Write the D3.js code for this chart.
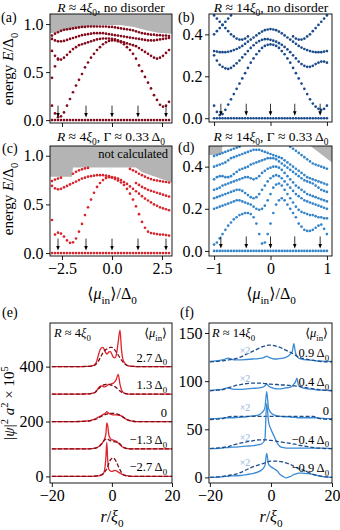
<!DOCTYPE html>
<html><head><meta charset="utf-8">
<script src="https://cdn.jsdelivr.net/npm/d3@7"></script>
<style>body{margin:0;background:#fff}svg{display:block}svg text{font-family:"Liberation Serif","DejaVu Serif",serif !important}</style>
</head><body><svg id="c" width="340" height="530"></svg>
<script>
// ---------------- DATA ----------------
const muA = [-3,-2.85,-2.7,-2.55,-2.4,-2.25,-2.1,-1.95,-1.8,-1.65,-1.5,-1.35,-1.2,-1.05,-0.9,-0.75,-0.6,-0.45,-0.3,-0.15,0,0.15,0.3,0.45,0.6,0.75,0.9,1.05,1.2,1.35,1.5,1.65,1.8,1.95,2.1,2.25,2.4,2.55,2.7,2.85];
const muB = [-1,-0.95,-0.9,-0.85,-0.8,-0.75,-0.7,-0.65,-0.6,-0.55,-0.5,-0.45,-0.4,-0.35,-0.3,-0.25,-0.2,-0.15,-0.1,-0.05,0,0.05,0.1,0.15,0.2,0.25,0.3,0.35,0.4,0.45,0.5,0.55,0.6,0.65,0.7,0.75,0.8,0.85,0.9,0.95,1];
const zeroA = [0,0,0,0,0,0,0,0,0,0,0,0,0,0,0,0,0,0,0,0,0,0,0,0,0,0,0,0,0,0,0,0,0,0,0,0,0,0,0,0];
const zeroB = [0,0,0,0,0,0,0,0,0,0,0,0,0,0,0,0,0,0,0,0,0,0,0,0,0,0,0,0,0,0,0,0,0,0,0,0,0,0,0,0,0];
// (a) R~4xi0, clean
const a1 = [.88,.90,.915,.93,.94,.945,.95,.955,.96,.965,.97,.97,.975,.975,.975,.975,.975,.975,.975,.97,.97,.965,.96,.955,.95,.945,.94,.935,.925,.915,.905,.90,.895,.89,.89,.885,.885,.88,.88,.875];
const a2 = [.845,.83,.82,.82,.825,.835,.845,.855,.865,.875,.885,.89,.895,.90,.905,.905,.905,.905,.90,.895,.89,.885,.88,.875,.87,.865,.86,.855,.85,.845,.84,.835,.83,.83,.83,.835,.84,.845,.85,.855];
const a3 = [.72,.67,.64,.63,.65,.68,.71,.74,.76,.78,.79,.80,.81,.82,.83,.84,.845,.85,.85,.85,.845,.84,.83,.82,.81,.80,.79,.78,.77,.75,.73,.71,.69,.67,.65,.64,.65,.67,.70,.73];
const a4 = [.15,.07,.03,.04,.08,.15,.22,.29,.36,.42,.48,.55,.60,.65,.69,.73,.76,.79,.81,.825,.83,.83,.82,.81,.79,.76,.73,.69,.64,.57,.51,.45,.39,.33,.26,.21,.16,.14,.15,.19];
const a5 = [.44,.56,.63];
const grayAmu = [-3.1,-2.6,-2.0,-1.2,-0.5,0.4,1.1,1.7,2.3,3.0];
const grayAE  = [.905,.92,.95,.975,.99,.99,.97,.935,.91,.9];
// (b) R~14xi0, clean
const b1 = [.32,.318,.315,.315,.315,.317,.32,.325,.33,.337,.345,.355,.365,.375,.385,.395,.405,.413,.42,.423,.425,.423,.42,.413,.405,.395,.385,.375,.365,.355,.345,.337,.33,.325,.32,.317,.315,.315,.315,.318,.32];
const b2 = [.30,.275,.255,.245,.238,.235,.24,.25,.262,.275,.29,.305,.32,.335,.348,.36,.368,.374,.377,.377,.374,.37,.365,.358,.35,.34,.328,.315,.30,.285,.27,.258,.25,.245,.245,.25,.258,.265,.27,.27,.265];
const b3 = [.06,.03,.015,.02,.04,.065,.09,.115,.14,.165,.19,.215,.24,.265,.285,.305,.32,.335,.345,.35,.352,.35,.345,.335,.32,.305,.285,.265,.24,.215,.19,.165,.14,.115,.09,.07,.055,.045,.04,.045,.06];
const b4 = [.40,.415,.43,.445,.46,.475,.49];
const b5 = [.49,.475,.46,.445,.43,.415,.40,.39,.38,.375,.375,.38,.39,null,null,null,null,null,null,null,null,null,null,null,null,null,null,null,.39,.38,.375,.375,.38,.39,.40,.415,.43,.445,.46,.475,.49];
// (c) R~4xi0, disorder
const c1 = [.74,.755,.765,.775,null,null,null,.815,.835,.85,.86,.87,.875];
const c2 = [.69,.665,.655,.66,.675,.69,.705,.72,.735,.75,.765,.775,.785,.79,.795,.80,.80,.80,.795,.79,.775,.76,.745,.725,.70,.66,.61,.55,.48,.40,.32,.26,.22,.205,.20,.195,.19,.19,.185,.18];
const c3 = [.34,.19,.21,.20,.17,.13,.105,.11,.15,.22,.30,.39,.47,.55,.62,.68,.72,.75,.77,.78,.78,.775,.765,.75,.73,.71,.685,.66,.635,.61,.585,.56,.54,.52,.50,.485,.47,.46,.45,.44];
const c4 = [null,null,null,null,null,null,null,null,null,null,null,null,null,null,null,null,null,null,null,null,null,null,null,null,null,null,.865,.85,.835,.815,.80,.785,.77,.76,.75,.745,.74,.735,.73,.725];
const c5 = [null,null,null,null,null,null,null,null,null,null,null,null,null,null,null,null,null,null,null,null,null,null,null,null,null,null,null,null,.72,.70,.68,.665,.65,.64,.63,.62,.61,.60,.59,.58];
const grayCmu = [-3.1,-2.0,-1.95,1.2,1.5,3.0];
const grayCE  = [.785,.785,.88,.88,.83,.725];
// (d) R~14xi0, disorder
const dd1 = [.45,.455,.46,.465,.47,.475,.48,.485,.49,.495,null,null,null,null,null,null,null,null,null,null,null,null,null,null,null,null,null,.495,.485,.475,.465,.455,.445,.435,.425,.415,.41,.405,.40,.395,.39];
const dd2 = [.40,.405,.41,.415,.42,.43,.44,.445,.45,.455,.46,.465,.47,.475,.48,.48,.48,.475,.47,.465,.46,.455,.45,.445,.44,.43,.42,.41,.40,.39,.38,.37,.36,.35,.345,.34,.335,.33,.325,.32,.315];
const dd3 = [.34,.35,.355,.355,.35,.35,.355,.365,.375,.385,.39,.395,.40,.41,.415,.42,.425,.43,.435,.44,.44,.44,.435,.425,.415,.405,.395,.385,.375,.365,.355,.345,.335,.33,.325,.32,.31,.30,.29,.285,.28];
const dd4 = [.29,.295,.30,.31,.315,.32,.325,.33,.335,.34,.345,.35,.35,.345,.34,.345,.355,.37,.38,.39,.395,.40,.40,.395,.385,.37,.355,.34,.325,.31,.30,.29,.28,.27,.265,.26,.255,.25,.245,.24,.235];
const dd5 = [.25,.255,.26,.265,.27,.275,.28,.285,.29,.29,.285,.275,.265,.255,.25,.255,.27,.29,.31,.33,.345,.355,.36,.355,.345,.33,.315,.30,.285,.27,.26,.25,.24,.235,.23,.225,.22,.215,.21,.205,.20];
const dd6 = [.20,.205,.21,.215,.22,.225,.23,.235,.24,.24,.235,.23,.225,.22,.21,.20,.195,.20,.215,.24,.27,.30,.315,.32,.31,.29,.27,.25,.23,.21,.195,.185,.18,.175,.17,.17,.165,.16,.16,.155,.155];
const dd7 = [.03,.04,.06,.08,.10,.12,.135,.15,.16,.17,.175,.18,.18,.175,.16,.13,.08,.035,.04,.08,.13,.18,.22,.24,.25,.24,.22,.20,.18,.16,.13,.115,.10,.095,.095,.10,.11,.12,.125,.105,.08];
const grayDmu = [-1.09,-0.87,-0.85,0.7,1.09];
const grayDE  = [.455,.455,.5,.5,.42];
// arrow positions (mu values of wavefunction cuts)
const arrowsA = [-2.7,-1.3,0,1.3,2.7];
const arrowsB = [-0.88,-0.43,0,0.43,0.88];
// (e) wavefunctions R~4xi0
const eR = [-20,-12,-8,-7,-6,-5.5,-5,-4.5,-4,-3.5,-3,-2.5,-2,-1.7,-1.4,-1,-0.5,0,0.5,1,1.5,2.1,2.7,3.2,3.6,4,4.5,5,5.5,6,7,8,12,20];
const eOffsets = [400,300,200,100,0];
const eLabels = ["2.7","1.3","0","\u22121.3","\u22122.7"];
const eS27 = [0,0,1,2,5,10,22,42,60,68,70,62,50,46,48,54,55,45,34,32,45,90,133,60,30,18,10,5,3,2,1,0,0,0];
const eD27 = [0,0,1,2,4,7,12,20,30,40,50,58,62,64,66,68,70,70,66,60,52,42,32,24,18,13,8,5,3,2,1,0,0,0];
const eS13 = [0,0,1,2,4,8,14,22,28,30,28,26,28,30,33,35,36,38,40,45,55,72,35,15,8,4,2,1,0,0,0,0,0,0];
const eD13 = [0,0,1,2,4,7,12,18,24,28,32,34,35,36,36,35,34,32,30,27,23,17,11,7,5,3,2,1,0,0,0,0,0,0];
const eS0  = [0,0,2,4,8,10,13,16,19,22,25,28,32,36,34,30,27,25,24,24,24,23,22,20,17,14,10,7,5,3,1,0,0,0];
const eD0  = [0,0,1,3,6,8,10,13,16,19,22,24,26,27,28,29,30,30,30,29,28,26,23,20,17,14,10,7,5,3,1,0,0,0];
const eSm13 = [0,0,0,1,2,3,5,8,12,18,25,35,55,95,85,50,38,34,32,30,28,22,15,10,7,5,3,2,1,0,0,0,0,0];
const eDm13 = [0,0,0,1,2,3,5,8,12,18,25,32,36,38,36,33,30,28,27,26,25,23,18,12,8,5,3,1,0,0,0,0,0,0];
const eSm27 = [0,0,0,0,1,1,2,2,3,5,8,20,70,124,60,25,20,18,20,22,20,16,12,9,7,5,4,3,2,1,0,0,0,0];
const eDm27 = [0,0,0,0,1,1,2,3,4,6,10,15,22,28,36,48,60,66,67,62,52,38,24,14,8,5,3,1,0,0,0,0,0,0];
// (f) wavefunctions R~14xi0
const fR = [-20,-18,-16,-15,-14,-13,-12,-10,-8,-6,-4,-3,-2,-1.4,-0.8,0,1,2,3,4,5,6,7,7.5,8,8.5,9,10,12,14,15,16,18,20];
const fOffsets = [120,90,60,30,0];
const fLabels = ["0.9","0.4","0","\u22120.4","\u22120.9"];
const fS09 = [0.5,1,2,3,4,3,2,2,2.5,3,3.5,4,5,6,5,4,3,3,3.5,4,5,7,11,19,10,6,4,3,2,1.5,1,1,0.5,0.5];
const fD09 = [0,0.5,1,1.5,2,2.5,3,5,8,11,14,15.5,16.5,17,17.5,17.5,17,16,15,13.5,12,10.5,9,8,7,6,5,4,2.5,1.5,1,0.5,0,0];
const fS04 = [0.5,1,1.5,2.5,3,2,1.5,1.5,2,2.5,3,3.5,5,7,5,3.5,2.5,2,2,2.5,3,3.5,5,7,9,13,6,3.5,2,1.5,1,1,0.5,0.5];
const fD04 = [0,0.5,1,2,3,4,5,6.5,7.5,8,8,8,7.5,7.5,7,7,6.5,6.5,6,6,6,5.5,5,5,5,4.5,4.5,4,3,2,1.5,1,0.5,0];
const fS0  = [1,1,1.5,2,2,2,2,2.5,3,4,5,7,12,29,12,7,5,4,3.5,3,3,3,2.5,2.5,2.5,2,2,2,2,2,2,1.5,1,1];
const fD0  = [0,0.5,1,2,3,3.5,3.5,3.5,3.5,3.5,3.5,3.5,3.5,3.5,3.5,3.5,3.5,3.5,3.5,3.5,3.5,3.5,3.5,3.5,3.5,3.5,3.5,3.5,3.5,3.5,2,1,0.5,0];
const fSm04 = [0,0,0.5,1,1,1.5,1.5,2,2.5,3,4,5,9,47,28,20,13,6,2,1,0.5,0.5,0.5,0.5,0.5,0.5,0.5,0.5,0.5,0.5,0.5,0.5,0.5,0];
const fDm04 = [0,0.5,1,1.5,2,3,4,5.5,7,8,9,9,9,9,8.5,8.5,8,7.5,7,6.5,6,5.5,5,4.5,4.5,4,3.5,3,2,1,0.5,0.5,0,0];
const fSm09 = [0,0,0.5,1,1,1.5,1.5,2,3,4,6,8,12,25,14,11,9,7,3,1,-0.5,0.5,2,3,3.5,4,4.5,4.5,4,3,2,1.5,0.5,0];
const fDm09 = [0,0.5,1,1.5,2,2.5,3,5,8,11,13,14,15,16,16.5,17,17,17,16.5,16,15,14,12.5,11.5,11,10,9,8,5.5,3,2,1.5,0.5,0];

// ---------------- DRAWING ----------------
const FONT = '"Liberation Serif","DejaVu Serif",serif';
const svg = d3.select('#c').attr('font-family', FONT);

function mtext(parent, x, y, parts, size, anchor, rotate) {
  const t = parent.append('text').attr('x', x).attr('y', y).attr('font-size', size)
    .attr('text-anchor', anchor || 'start').attr('fill', '#000');
  if (rotate) t.attr('transform', `rotate(${rotate},${x},${y})`);
  let shift = 0;
  parts.forEach(p => {
    const s = p[0], st = p[1] || '';
    const ts = t.append('tspan').text(s);
    let target = 0;
    if (st.includes('sub')) target = size * 0.3;
    if (st.includes('sup')) target = -size * 0.4;
    const dy = target - shift;
    if (dy) ts.attr('dy', dy);
    shift = target;
    if (st.includes('sub') || st.includes('sup')) ts.attr('font-size', size * 0.7);
    if (st.startsWith('i')) ts.attr('font-style', 'italic');
  });
  return t;
}

const boxes = {
  a: [50, 172, 14, 123], b: [209, 332, 14, 122],
  c: [50, 172, 146, 256], d: [209, 332, 146, 256],
  e: [50, 172, 323, 483], f: [209, 332, 323, 483]
};
const xA = d3.scaleLinear().domain([-3.1, 3.0]).range([50, 172]);
const yA = d3.scaleLinear().domain([-0.03, 1.105]).range([123, 14]);
const xB = d3.scaleLinear().domain([-1.09, 1.09]).range([209, 332]);
const yB = d3.scaleLinear().domain([-0.018, 0.497]).range([122, 14]);
const xC = d3.scaleLinear().domain([-3.1, 3.0]).range([50, 172]);
const yC = d3.scaleLinear().domain([-0.03, 1.1]).range([256, 146]);
const xD = d3.scaleLinear().domain([-1.09, 1.09]).range([209, 332]);
const yD = d3.scaleLinear().domain([-0.024, 0.498]).range([256, 146]);
const xE = d3.scaleLinear().domain([-20.6, 20]).range([50, 172]);
const yE = d3.scaleLinear().domain([-24, 559]).range([483, 323]);
const xF = d3.scaleLinear().domain([-20.3, 20]).range([209, 332]);
const yF = d3.scaleLinear().domain([-5.8, 160.4]).range([483, 323]);

function makePanel(id, box) {
  const g = svg.append('g');
  g.append('clipPath').attr('id', 'clip' + id).append('rect')
    .attr('x', box[0]).attr('y', box[2]).attr('width', box[1] - box[0]).attr('height', box[3] - box[2]);
  const inner = g.append('g').attr('clip-path', `url(#clip${id})`);
  return { g, inner };
}

function axes(g, x, y, box, xt, yt, xf, yf) {
  const bx = g.append('g').attr('transform', `translate(0,${box[3]})`)
    .call(d3.axisBottom(x).tickValues(xt).tickFormat(xf).tickSize(4).tickPadding(3).tickSizeOuter(0));
  bx.select('.domain').remove();
  bx.attr('font-family', FONT).attr('font-size', 16);
  const by = g.append('g').attr('transform', `translate(${box[0]},0)`)
    .call(d3.axisLeft(y).tickValues(yt).tickFormat(yf).tickSize(4).tickPadding(2.5).tickSizeOuter(0));
  by.select('.domain').remove();
  by.attr('font-family', FONT).attr('font-size', 16);
  g.selectAll('.tick line').attr('stroke', '#000').attr('stroke-width', 0.9);
  g.selectAll('.tick text').attr('fill', '#000');
}

function frame(g, box) {
  g.append('rect').attr('x', box[0]).attr('y', box[2]).attr('width', box[1] - box[0])
    .attr('height', box[3] - box[2]).attr('fill', 'none').attr('stroke', '#000').attr('stroke-width', 0.9);
}

function gray(inner, x, y, box, mu, E) {
  const area = d3.area().x((d, i) => x(mu[i])).y0(box[2]).y1(d => y(d));
  inner.append('path').attr('d', area(E)).attr('fill', '#b4b4b4');
}

function dots(inner, x, y, mu, bands, color) {
  bands.forEach(b => {
    const pts = b.map((v, i) => [mu[i], v]).filter(d => d[1] != null && d[1] !== undefined);
    inner.append('g').selectAll('circle').data(pts).join('circle')
      .attr('cx', d => x(d[0])).attr('cy', d => y(d[1])).attr('r', 1.35).attr('fill', color);
  });
}

function arrows(g, x, y, list) {
  list.forEach(m => {
    const px = x(m), tip = y(0) - 2.5, tail = tip - 12;
    g.append('line').attr('x1', px).attr('x2', px).attr('y1', tail).attr('y2', tip - 3)
      .attr('stroke', '#000').attr('stroke-width', 0.8);
    g.append('path').attr('d', `M${px - 1.8},${tip - 4.5}L${px + 1.8},${tip - 4.5}L${px},${tip}Z`).attr('fill', '#000');
  });
}

const fmt1 = d3.format('.1f');
const title4 = [['R', 'i'], [' \u2248 4'], ['\u03be', 'i'], ['0', 'sub'], [', no disorder']];
const title14 = [['R', 'i'], [' \u2248 14'], ['\u03be', 'i'], ['0', 'sub'], [', no disorder']];
const titleC = [['R', 'i'], [' \u2248 4'], ['\u03be', 'i'], ['0', 'sub'], [', \u0393 \u2248 0.33 \u0394'], ['0', 'sub']];
const titleD = [['R', 'i'], [' \u2248 14'], ['\u03be', 'i'], ['0', 'sub'], [', \u0393 \u2248 0.33 \u0394'], ['0', 'sub']];
const energyLab = [['energy '], ['E', 'i'], ['/\u0394'], ['0', 'sub']];
const muLab = [['\u27e8'], ['\u03bc', 'i'], ['in', 'sub'], ['\u27e9/\u0394'], ['0', 'sub']];
const muLegend = [['\u27e8'], ['\u03bc', 'i'], ['in', 'sub'], ['\u27e9']];
const rLab = [['r', 'i'], ['/'], ['\u03be', 'i'], ['0', 'sub']];
const psiLab = [['|'], ['\u03c8', 'i'], ['|'], ['2', 'sup'], [' '], ['a', 'i'], ['2', 'sup'], [' \u00d7 10'], ['5', 'sup']];

const colA = '#820b1d', colB = '#1b4b8b', colC = '#d6262c', colD = '#3484c9';

// Panel (a)
{
  const { g, inner } = makePanel('a', boxes.a);
  gray(inner, xA, yA, boxes.a, grayAmu, grayAE);
  dots(inner, xA, yA, muA, [a1, a2, a3, a4, a5, zeroA], colA);
  arrows(g, xA, yA, arrowsA);
  axes(g, xA, yA, boxes.a, [-2.5, 0, 2.5], [0, 0.5, 1], () => '', fmt1);
  frame(g, boxes.a);
  mtext(g, 111, 11.5, title4, 13.5, 'middle');
  mtext(g, 1, 22, [['(a)']], 14);
  mtext(g, 13, 69, energyLab, 15, 'middle', -90);
}
// Panel (b)
{
  const { g, inner } = makePanel('b', boxes.b);
  dots(inner, xB, yB, muB, [b1, b2, b3, b4, b5, zeroB], colB);
  arrows(g, xB, yB, arrowsB);
  axes(g, xB, yB, boxes.b, [-1, 0, 1], [0, 0.2, 0.4], () => '', fmt1);
  frame(g, boxes.b);
  mtext(g, 271, 11.5, title14, 13.5, 'middle');
  mtext(g, 178, 22, [['(b)']], 14);
}
// Panel (c)
{
  const { g, inner } = makePanel('c', boxes.c);
  gray(inner, xC, yC, boxes.c, grayCmu, grayCE);
  dots(inner, xC, yC, muA, [c1, c2, c3, c4, c5, zeroA], colC);
  arrows(g, xC, yC, arrowsA);
  axes(g, xC, yC, boxes.c, [-2.5, 0, 2.5], [0, 0.5, 1], fmt1, fmt1);
  frame(g, boxes.c);
  mtext(g, 168, 158, [['not calculated']], 12.5, 'end');
  mtext(g, 111, 141, titleC, 13.5, 'middle');
  mtext(g, 2, 153, [['(c)']], 14);
  mtext(g, 13, 199, energyLab, 15, 'middle', -90);
  mtext(g, 112, 299, muLab, 16, 'middle');
}
// Panel (d)
{
  const { g, inner } = makePanel('d', boxes.d);
  gray(inner, xD, yD, boxes.d, grayDmu, grayDE);
  dots(inner, xD, yD, muB, [dd1, dd2, dd3, dd4, dd5, dd6, dd7, zeroB], colD);
  arrows(g, xD, yD, arrowsB);
  axes(g, xD, yD, boxes.d, [-1, 0, 1], [0, 0.2, 0.4], d3.format('d'), fmt1);
  frame(g, boxes.d);
  mtext(g, 271, 141, titleD, 13.5, 'middle');
  mtext(g, 178, 152, [['(d)']], 14);
  mtext(g, 271, 299, muLab, 16, 'middle');
}
// Panel (e)
{
  const { g, inner } = makePanel('e', boxes.e);
  const solids = [eS27, eS13, eS0, eSm13, eSm27];
  const dashed = [eD27, eD13, eD0, eDm13, eDm27];
  eOffsets.forEach((off, k) => {
    const line = d3.line().x((d, i) => xE(eR[i])).y(d => yE(off + d)).curve(d3.curveMonotoneX);
    inner.append('path').attr('d', line(solids[k])).attr('fill', 'none').attr('stroke', '#e0232a').attr('stroke-width', 1.3);
    inner.append('path').attr('d', line(dashed[k])).attr('fill', 'none').attr('stroke', '#7c0d19').attr('stroke-width', 1.3).attr('stroke-dasharray', '4,2');
    const lab = eLabels[k] === '0' ? [['0']] : [[eLabels[k] + ' \u0394'], ['0', 'sub']];
    mtext(g, 167, yE(off) - 5, lab, 12.5, 'end');
  });
  axes(g, xE, yE, boxes.e, [-20, 0, 20], [0, 200, 400], d3.format('d'), d3.format('d'));
  frame(g, boxes.e);
  mtext(g, 54, 337, [['R', 'i'], [' \u2248 4'], ['\u03be', 'i'], ['0', 'sub']], 12.5);
  mtext(g, 167, 337, muLegend, 12.5, 'end');
  mtext(g, 2, 317, [['(e)']], 14);
  mtext(g, 14, 403, psiLab, 15, 'middle', -90);
  mtext(g, 112, 522, rLab, 16, 'middle');
}
// Panel (f)
{
  const { g, inner } = makePanel('f', boxes.f);
  const solids = [fS09, fS04, fS0, fSm04, fSm09];
  const dashed = [fD09, fD04, fD0, fDm04, fDm09];
  const x2dy = [8, 9, 9, 8, 11];
  fOffsets.forEach((off, k) => {
    const line = d3.line().x((d, i) => xF(fR[i])).y(d => yF(off + d)).curve(d3.curveMonotoneX);
    inner.append('path').attr('d', line(solids[k])).attr('fill', 'none').attr('stroke', '#3b8ad3').attr('stroke-width', 1.3);
    inner.append('path').attr('d', line(dashed[k])).attr('fill', 'none').attr('stroke', '#1d4c8b').attr('stroke-width', 1.3).attr('stroke-dasharray', '4,2');
    const lab = fLabels[k] === '0' ? [['0']] : [[fLabels[k] + ' \u0394'], ['0', 'sub']];
    mtext(g, 329, yF(off) - 5, lab, 12.5, 'end');
    g.append('text').attr('x', xF(-8.5)).attr('y', yF(off) - x2dy[k]).attr('font-size', 10)
      .attr('text-anchor', 'middle').attr('fill', '#8fb2d8').text('\u00d72');
  });
  axes(g, xF, yF, boxes.f, [-20, 0, 20], [0, 50, 100, 150], d3.format('d'), d3.format('d'));
  frame(g, boxes.f);
  mtext(g, 212, 337, [['R', 'i'], [' \u2248 14'], ['\u03be', 'i'], ['0', 'sub']], 12.5);
  mtext(g, 328, 337, muLegend, 12.5, 'end');
  mtext(g, 180, 317, [['(f)']], 14);
  mtext(g, 271, 522, rLab, 16, 'middle');
}
</script>
</body></html>
